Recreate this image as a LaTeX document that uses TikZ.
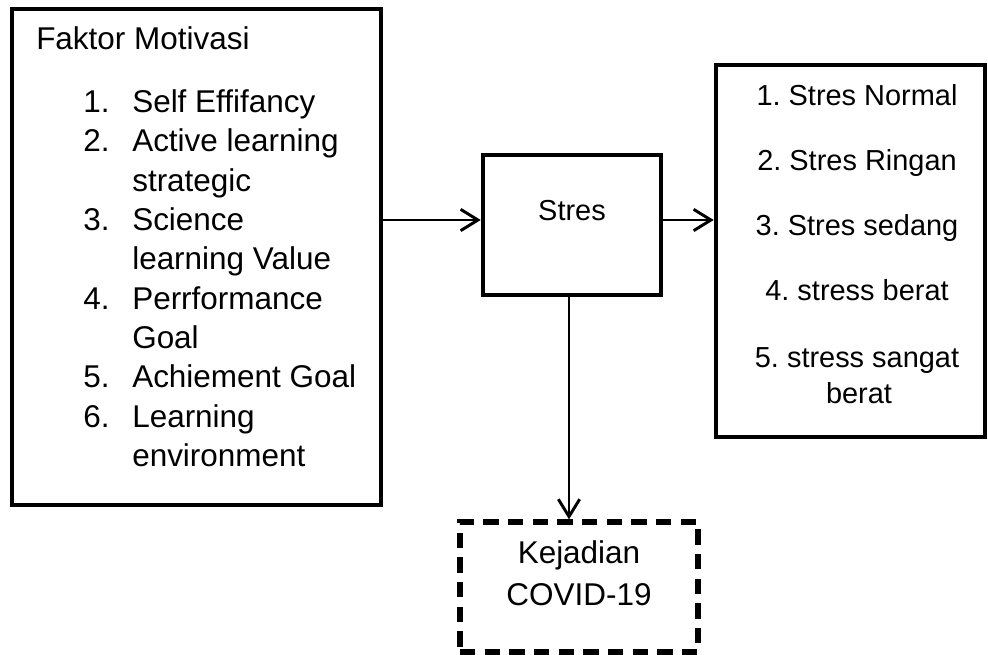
\documentclass[tikz,border=0pt]{standalone}
\usepackage{fontspec}
\setmainfont{Liberation Sans}
\usetikzlibrary{arrows.meta}
\frenchspacing
\begin{document}
\begin{tikzpicture}[x=0.75pt,y=-0.75pt,
  box/.style={draw,line width=3.4pt,inner sep=0pt},
  dbox/.style={draw,line width=4pt,inner sep=0pt,dash pattern=on 11.5pt off 7pt},
  big/.style={font=\fontsize{23.6pt}{28pt}\selectfont,inner sep=0pt},
  small/.style={font=\fontsize{21.7pt}{26pt}\selectfont,inner sep=0pt},
  arr/.style={line width=2.2pt,-{Straight Barb[length=13pt,width=16pt,line width=2.2pt]}}]
\useasboundingbox (0,0) rectangle (988,654);
% boxes
\node[box,minimum width=369*0.75pt,minimum height=496*0.75pt] (lf) at (196.5,257) {};
\node[box,minimum width=178*0.75pt,minimum height=140*0.75pt] (stres) at (572,225) {};
\node[box,minimum width=269*0.75pt,minimum height=372*0.75pt] (rt) at (850.5,251) {};
\node[dbox,minimum width=238*0.75pt,minimum height=130*0.75pt] (dash) at (579,587) {};
% left text
\node[big,anchor=base west] (t0) at (36,49) {Faktor Motivasi};
\node[big,anchor=base west] (n1) at (83,112) {1.};
\node[big,anchor=base west] (l1) at (132,112) {Self Effifancy};
\node[big,anchor=base west] (n2) at (83,151) {2.};
\node[big,anchor=base west] (l2) at (132,151) {Active learning};
\node[big,anchor=base west] (l2b) at (132,191) {strategic};
\node[big,anchor=base west] (n3) at (83,230) {3.};
\node[big,anchor=base west] (l3) at (132,230) {Science};
\node[big,anchor=base west] (l3b) at (132,269) {learning Value};
\node[big,anchor=base west] (n4) at (83,309) {4.};
\node[big,anchor=base west] (l4) at (132,309) {Perrformance};
\node[big,anchor=base west] (l4b) at (132,348) {Goal};
\node[big,anchor=base west] (n5) at (83,387) {5.};
\node[big,anchor=base west] (l5) at (132,387) {Achiement Goal};
\node[big,anchor=base west] (n6) at (83,427) {6.};
\node[big,anchor=base west] (l6) at (132,427) {Learning};
\node[big,anchor=base west] (l6b) at (132,466) {environment};
% stres text
\node[small,anchor=base] (st) at (572,220) {Stres};
% right text
\node[small,anchor=base] (r1) at (857,105) {1. Stres Normal};
\node[small,anchor=base] (r2) at (857,170) {2. Stres Ringan};
\node[small,anchor=base] (r3) at (857,235) {3. Stres sedang};
\node[small,anchor=base] (r4) at (857,300) {4. stress berat};
\node[small,anchor=base] (r5) at (857,367) {5. stress sangat};
\node[small,anchor=base] (r5b) at (859,403) {berat};
% dashed text
\node[big,anchor=base] (k1) at (579,563) {Kejadian};
\node[big,anchor=base] (k2) at (579,605) {COVID-19};
% connectors
\path ([yshift=3.75pt]stres.west) coordinate (sw);
\path ([yshift=3.75pt]stres.east) coordinate (se);
\path ([xshift=-2.25pt]stres.south) coordinate (ss);
\draw[arr] (lf.east |- sw) -- (sw);
\draw[arr] (se) -- (rt.west |- se);
\draw[arr] (ss) -- (ss |- dash.north);
\end{tikzpicture}
\end{document}
